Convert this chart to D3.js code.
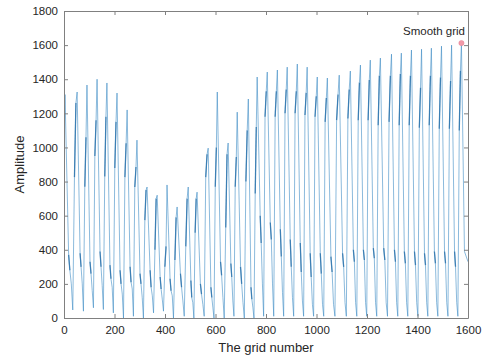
<!DOCTYPE html>
<html>
<head>
<meta charset="utf-8">
<script src="https://cdnjs.cloudflare.com/ajax/libs/d3/7.8.5/d3.min.js"></script>
<style>
  body { margin: 0; background: #fff; }
  text { font-family: "Liberation Sans", Arial, sans-serif; }
</style>
</head>
<body>
<script>
// values
const xTicks = [0, 200, 400, 600, 800, 1000, 1200, 1400, 1600];
const yTicks = [0, 200, 400, 600, 800, 1000, 1200, 1400, 1600, 1800];

const startAmp = 1000, endAmp = 330;
// one entry per oscillation, keyed on its peak
const peakGrid = [4, 52, 91, 131, 170, 210, 250, 289, 329, 369, 408, 448, 492, 527, 571, 607, 650, 686, 730, 765,
  805, 845, 884, 924, 963, 1003, 1043, 1090, 1134, 1174, 1213, 1253, 1297, 1336, 1376, 1416, 1455, 1495, 1535, 1574];
const peakAmp = [1310, 1325, 1366, 1400, 1378, 1319, 1220, 1043, 768, 720, 780, 651, 768, 738, 996, 1325, 1026, 1207, 1284, 1413,
  1442, 1454, 1471, 1489, 1471, 1413, 1407, 1424, 1448, 1483, 1512, 1524, 1547, 1553, 1571, 1576, 1582, 1594, 1600, 1612];
// falling side after each peak
const midHi = [370, 380, 330, 390, 310, 280, 300, 260, 280, 240, 230, 260, 220, 200, 180, 330, 320, 300, 180, 600,
  560, 520, 460, 440, 380, 380, 360, 380, 400, 400, 410, 410, 400, 390, 390, 380, 390, 390, 390, 390];
const midLo = [280, 300, 260, 300, 230, 200, 210, 200, 180, 170, 160, 180, 120, 140, 120, 250, 240, 200, 110, 440,
  460, 360, 300, 270, 240, 260, 270, 300, 330, 340, 350, 340, 330, 320, 310, 310, 320, 320, 300, 330];
const bump = [200, 200, 160, 190, 180, 140, 170, 120, 130, 110, 130, 100, 90, 80, 60, 120, 100, 90, 60, 200,
  200, 150, 120, 100, 80, 80, 80, 90, 90, 90, 90, 90, 90, 90, 90, 90, 90, 90, 90];
const trough = [47, 40, 60, 50, 30, 0, 10, 0, 30, 40, 0, 10, 0, 10, 0, 0, 10, 0, 0, 10,
  10, 10, 10, 10, 10, 10, 10, 10, 10, 10, 10, 10, 10, 10, 10, 10, 10, 10, 10];
// rising side before each peak (first peak rises from startAmp)
const riseLo = [null, 826, 770, 950, 830, 880, 826, 768, 574, 400, 300, 340, 420, 500, 826, 770, 530, 770, 800, 730,
  1180, 1180, 1200, 1200, 1190, 1180, 1150, 1160, 1170, 1160, 1160, 1130, 1150, 1130, 1130, 1115, 1130, 1110, 1110, 1100];
const riseHi = [null, 1260, 1060, 1160, 1180, 1150, 1025, 885, 750, 700, 420, 590, 700, 700, 960, 1000, 960, 944, 1100, 1120,
  1330, 1330, 1340, 1330, 1320, 1300, 1290, 1310, 1340, 1380, 1395, 1420, 1420, 1430, 1420, 1350, 1420, 1410, 1390, 1450];

const markerPt = { grid: 1574, amp: 1612, label: "Smooth grid" };

(function() {
const width = 491, height = 356;
const mLeft = 64, mRight = 468, mTop = 11, mBottom = 318;

const svg = d3.select("body").append("svg")
  .attr("width", width)
  .attr("height", height);

const x = d3.scaleLinear().domain([0, 1600]).range([mLeft, mRight]);
const y = d3.scaleLinear().domain([0, 1800]).range([mBottom, mTop]);

// build the polyline vertices, and keep the slow shoulders apart
const pts = [[0, startAmp]];
const shoulders = [];
const n = peakGrid.length;
for (let i = 0; i < n; i++) {
  if (i > 0) {
    const p = peakGrid[i - 1], L = peakGrid[i] - p;
    const a = [p + 0.78 * L, riseLo[i]], b = [p + 0.9 * L, riseHi[i]];
    pts.push(a, b);
    shoulders.push([a, b]);
  }
  pts.push([peakGrid[i], peakAmp[i]]);
  if (i < n - 1) {
    const p = peakGrid[i], L = peakGrid[i + 1] - p;
    const a = [p + 0.3 * L, midHi[i]], b = [p + 0.4 * L, midLo[i]];
    pts.push(a, b, [p + 0.52 * L, bump[i]], [p + 0.64 * L, trough[i]]);
    shoulders.push([a, b]);
  } else {
    pts.push([peakGrid[i] + 12, midHi[i]], [1600, endAmp]);
  }
}

svg.append("clipPath").attr("id", "clip")
  .append("rect").attr("x", mLeft).attr("y", mTop)
  .attr("width", mRight - mLeft).attr("height", mBottom - mTop);

const line = d3.line().x(d => x(d[0])).y(d => y(d[1]));

const plot = svg.append("g").attr("clip-path", "url(#clip)");

plot.append("path")
  .datum(pts)
  .attr("fill", "none")
  .attr("stroke", "#3d8cc4")
  .attr("stroke-width", 0.6)
  .attr("stroke-linejoin", "round")
  .attr("d", line);

// the retraced parts look darker in the picture
plot.selectAll(".shoulder")
  .data(shoulders)
  .join("path")
  .attr("class", "shoulder")
  .attr("fill", "none")
  .attr("stroke", "#1f6aa5")
  .attr("stroke-width", 1.3)
  .attr("stroke-opacity", 0.75)
  .attr("d", line);

// axes, MATLAB-like box with inward ticks
function styleAxis(g) {
  g.select(".domain").attr("stroke", "#808080");
  g.selectAll(".tick line").attr("stroke", "#808080");
  g.selectAll(".tick text").attr("fill", "#262626").style("font-size", "11.5px");
}

svg.append("g")
  .attr("transform", `translate(0,${mBottom})`)
  .call(d3.axisBottom(x).tickValues(xTicks).tickFormat(d3.format("d")).tickSize(-4).tickPadding(8).tickSizeOuter(0))
  .call(styleAxis);

svg.append("g")
  .attr("transform", `translate(0,${mTop})`)
  .call(d3.axisTop(x).tickValues(xTicks).tickSize(-4).tickFormat("").tickSizeOuter(0))
  .call(styleAxis);

svg.append("g")
  .attr("transform", `translate(${mLeft},0)`)
  .call(d3.axisLeft(y).tickValues(yTicks).tickFormat(d3.format("d")).tickSize(-4).tickPadding(6).tickSizeOuter(0))
  .call(styleAxis);

svg.append("g")
  .attr("transform", `translate(${mRight},0)`)
  .call(d3.axisRight(y).tickValues(yTicks).tickSize(-4).tickFormat("").tickSizeOuter(0))
  .call(styleAxis);

// marker and its label
svg.append("circle")
  .attr("cx", x(markerPt.grid))
  .attr("cy", y(markerPt.amp))
  .attr("r", 2.6)
  .attr("fill", "#f39aa8")
  .attr("stroke", "#e57f90")
  .attr("stroke-width", 0.5);

svg.append("text")
  .attr("x", 465)
  .attr("y", y(markerPt.amp) - 8)
  .attr("text-anchor", "end")
  .attr("fill", "#262626")
  .style("font-size", "11.5px")
  .text(markerPt.label);

// axis titles
svg.append("text")
  .attr("x", (mLeft + mRight) / 2)
  .attr("y", 352)
  .attr("text-anchor", "middle")
  .attr("fill", "#262626")
  .style("font-size", "13px")
  .text("The grid number");

svg.append("text")
  .attr("transform", `translate(24,${(mTop + mBottom) / 2}) rotate(-90)`)
  .attr("text-anchor", "middle")
  .attr("fill", "#262626")
  .style("font-size", "13px")
  .text("Amplitude");
})();
</script>
</body>
</html>
